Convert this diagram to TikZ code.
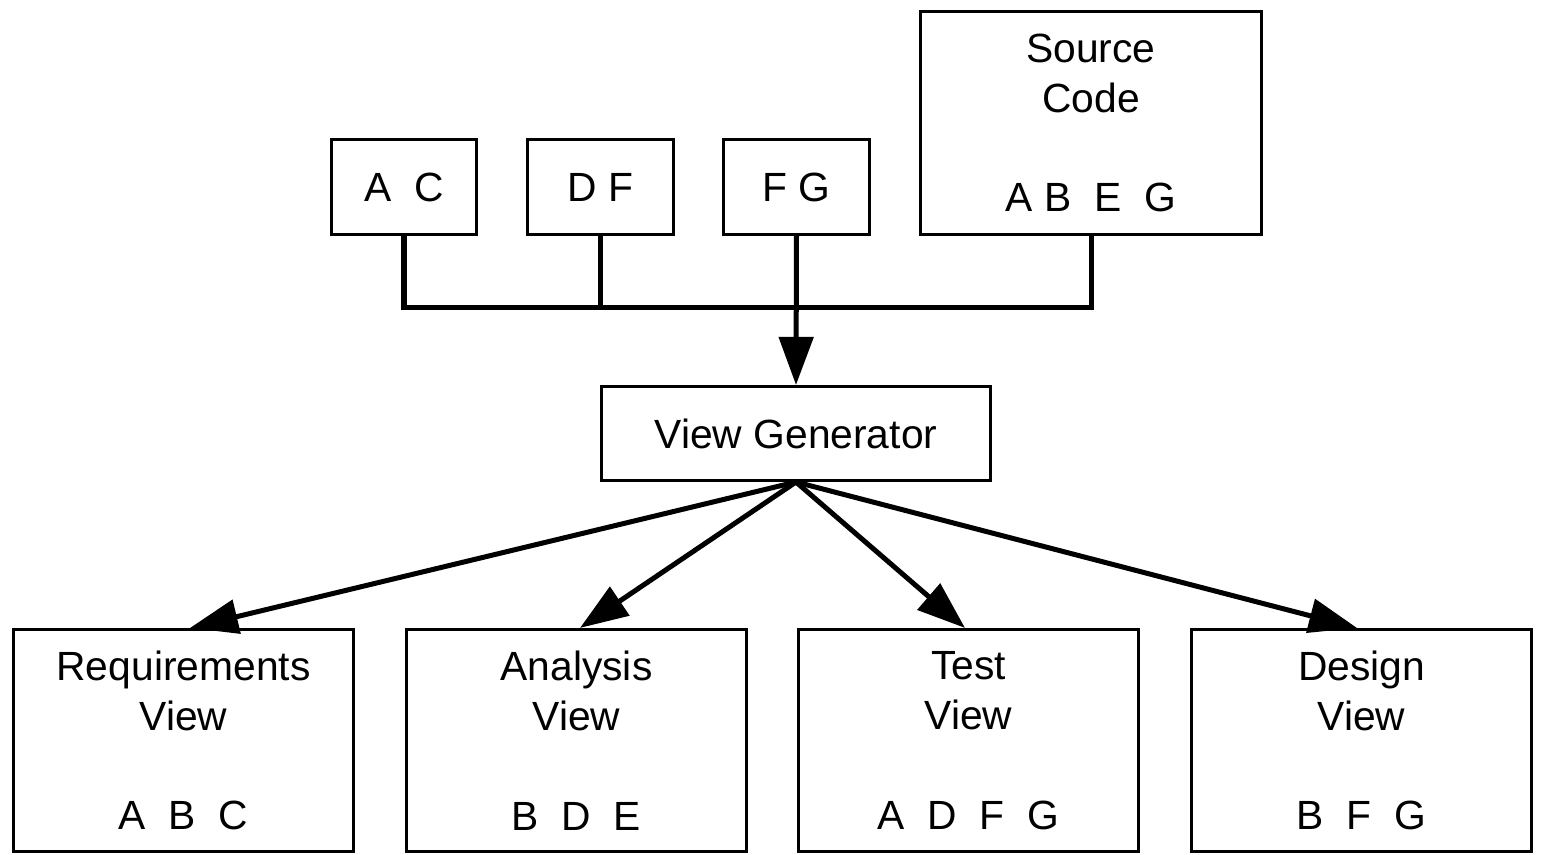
\documentclass[tikz,border=0pt]{standalone}
\usepackage{fontspec}
\setmainfont{Liberation Sans}
\usetikzlibrary{arrows.meta}

\tikzset{
	box/.style={draw, line width=0.03cm, inner sep=0pt, align=center, font=\fontsize{11.6}{14.2}\selectfont},
	smallbox/.style={box, minimum width=1.45cm, minimum height=0.95cm},
	viewbox/.style={box, minimum width=3.40cm, minimum height=2.22cm},
	conn/.style={line width=0.05cm},
	arr/.style={conn, -{Triangle[length=0.48cm,width=0.34cm]}}
}

\begin{document}
\begin{tikzpicture}[x=0.01cm, y=-0.01cm]

	\useasboundingbox (0,0) rectangle (1541,855);

	% inputs
	\node[smallbox] (ac) at (404,187) {A\ \ C};
	\node[smallbox] (df) at (600.5,187) {D F};
	\node[smallbox] (fg) at (796.5,187) {F G};
	\node[box, minimum width=3.41cm, minimum height=2.23cm] (src) at (1091,123) {Source\\Code\\[14.2pt]A B\ \ E\ \ G};

	\node[box, minimum width=3.89cm, minimum height=0.94cm] (gen) at (796,433.5) {View Generator};

	% views
	\node[viewbox] (req) at (183.5,740.5) {Requirements\\View\\[14.2pt]A\ \ B\ \ C};
	\node[viewbox] (ana) at (576.5,740.5) {Analysis\\View\\[14.2pt]B\ \ D\ \ E};
	\node[viewbox] (tst) at (968.5,740.5) {Test\\View\\[14.2pt]A\ \ D\ \ F\ \ G};
	\node[viewbox] (des) at (1361.5,740.5) {Design\\View\\[14.2pt]B\ \ F\ \ G};

	\coordinate (bus) at (796.5,308);

	\draw[conn] (ac.south) |- (bus) -| (src.south);
	\draw[conn] (df.south) -- (df.south |- bus);
	\draw[arr] (fg.south) -- (gen.north);

	\draw[arr] (gen.south) -- ([xshift=0.065cm]req.north);
	\draw[arr] (gen.south) -- ([xshift=0.035cm]ana.north);
	\draw[arr] (gen.south) -- ([xshift=-0.035cm]tst.north);
	\draw[arr] (gen.south) -- ([xshift=-0.045cm]des.north);

\end{tikzpicture}
\end{document}
